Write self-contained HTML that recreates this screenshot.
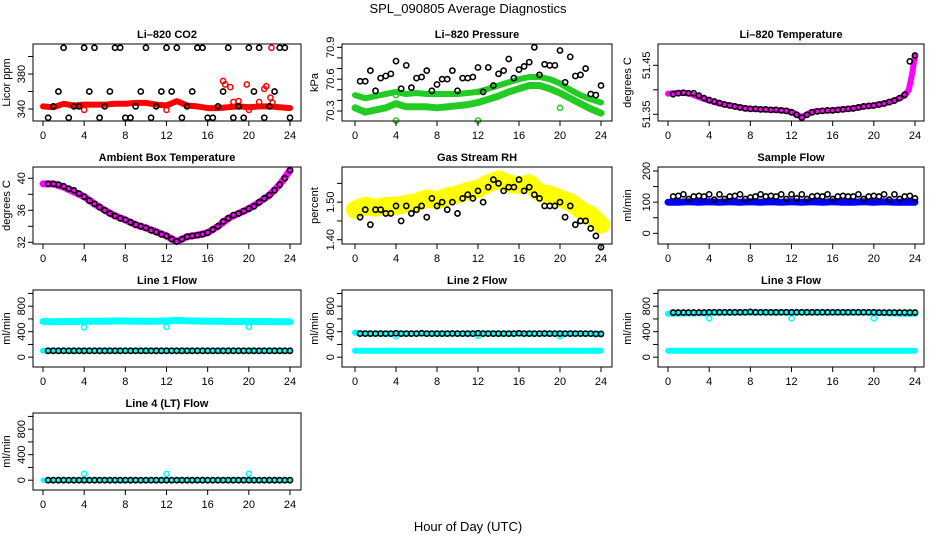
<!DOCTYPE html>
<html><head><meta charset="utf-8">
<style>
html,body{margin:0;padding:0;background:#fff;}
svg{display:block;font-family:"Liberation Sans",Arial,sans-serif;}
.tk{font-size:11px;fill:#000;}
.tt{font-size:11px;font-weight:bold;fill:#000;}
</style></head>
<body>
<svg id="c" width="936" height="540" viewBox="0 0 936 540" xmlns="http://www.w3.org/2000/svg">
<text x="468" y="13" text-anchor="middle" font-size="13">SPL_090805  Average Diagnostics</text>
<text x="468" y="531" text-anchor="middle" font-size="13">Hour of Day (UTC)</text>
</svg>
<script>
// ---- data ----
const blackHours=[0.5,1,1.5,2,2.5,3,3.5,4,4.5,5,5.5,6,6.5,7,7.5,8,8.5,9,9.5,10,10.5,11,11.5,12,12.5,13,13.5,14,14.5,15,15.5,16,16.5,17,17.5,18,18.5,19,19.5,20,20.5,21,21.5,22,22.5,23,23.5,24];
const bandHours=[0,1,2,3,4,5,6,7,8,9,10,11,12,13,14,15,16,17,18,19,20,21,22,23,24];
const xTicks=[0,4,8,12,16,20,24];

const co2Black=[330,343,360,410,330,343,343,410,360,410,330,343,360,410,410,330,330,343,360,410,330,343,360,410,360,410,330,343,360,410,410,330,330,343,360,410,330,343,330,410,360,410,330,343,360,410,410,330];
const co2Band=[343,342,346,344,345,345,345,346,346,347,347,345,344,349,344,343,341,341,342,343,342,343,343,342,341];
const co2OutH=[17.5,17.7,18.2,19.8,21.5,21.7,22.1,22.2,4,12,20,18.5,19,21,22.3];
const co2OutV=[372,368,365,368,363,366,353,410,339,339,339,348,349,348,347];

const presBlack=[70.58,70.58,70.68,70.49,70.61,70.63,70.65,70.77,70.51,70.73,70.52,70.61,70.62,70.68,70.49,70.55,70.60,70.60,70.68,70.49,70.61,70.61,70.62,70.71,70.48,70.71,70.54,70.65,70.68,70.79,70.61,70.69,70.72,70.76,70.90,70.64,70.74,70.73,70.73,70.87,70.57,70.81,70.63,70.64,70.70,70.46,70.45,70.54];
const presLow=[70.33,70.29,70.31,70.33,70.37,70.34,70.34,70.34,70.33,70.34,70.35,70.36,70.38,70.41,70.44,70.48,70.51,70.54,70.54,70.51,70.47,70.42,70.37,70.32,70.28];
const presHigh=[70.45,70.42,70.44,70.46,70.48,70.46,70.47,70.46,70.46,70.46,70.46,70.47,70.48,70.51,70.54,70.57,70.60,70.62,70.62,70.60,70.56,70.50,70.45,70.41,70.38];
const presOutH=[4,12,20,4,12];
const presOutV=[70.21,70.21,70.33,70.45,70.48];

const tempBlack=[51.391,51.393,51.394,51.393,51.393,51.388,51.383,51.379,51.376,51.373,51.370,51.368,51.366,51.364,51.362,51.361,51.361,51.360,51.360,51.359,51.359,51.358,51.357,51.354,51.349,51.343,51.349,51.354,51.356,51.357,51.358,51.358,51.359,51.360,51.361,51.362,51.364,51.366,51.367,51.368,51.370,51.372,51.375,51.378,51.383,51.390,51.458,51.470];
const tempBandH=[0,1,2,3,4,5,6,7,8,9,10,11,12,13,14,15,16,17,18,19,20,21,22,23,23.4,23.7,24];
const tempBand=[51.392,51.394,51.393,51.385,51.378,51.372,51.368,51.364,51.361,51.360,51.359,51.358,51.355,51.344,51.355,51.357,51.358,51.360,51.362,51.366,51.368,51.372,51.378,51.388,51.40,51.43,51.47];

const ambBlack=[39.3,39.3,39.2,39.0,38.7,38.5,38.1,37.7,37.2,36.8,36.4,36.0,35.6,35.3,35.0,34.8,34.5,34.2,34.0,33.8,33.5,33.3,33.0,32.8,32.4,32.1,32.4,32.7,32.8,32.9,33.0,33.2,33.6,34.0,34.6,35.0,35.4,35.6,35.9,36.2,36.5,37.0,37.5,37.9,38.5,39.2,40.0,41.0];
const ambBand=[39.3,39.3,38.9,38.3,37.7,36.8,36.0,35.3,34.8,34.2,33.8,33.3,32.8,32.1,32.7,32.9,33.2,34.0,35.0,35.6,36.2,37.0,37.9,39.2,41.0];

const rhBlack=[1.46,1.48,1.44,1.48,1.48,1.47,1.47,1.49,1.45,1.49,1.47,1.48,1.49,1.46,1.51,1.49,1.50,1.48,1.50,1.47,1.51,1.52,1.51,1.53,1.50,1.54,1.56,1.55,1.53,1.54,1.54,1.56,1.53,1.54,1.52,1.51,1.49,1.49,1.49,1.50,1.46,1.49,1.44,1.45,1.45,1.43,1.41,1.38];
const rhBand=[1.48,1.49,1.485,1.49,1.49,1.495,1.50,1.51,1.505,1.515,1.52,1.53,1.535,1.55,1.56,1.55,1.545,1.55,1.525,1.52,1.51,1.50,1.48,1.465,1.44];

const sfBlack=[118,120,125,110,118,120,118,125,108,125,110,118,120,125,110,115,118,125,118,120,118,125,110,125,112,125,110,118,120,118,125,110,118,120,118,118,125,110,118,120,118,125,108,125,110,118,120,112];
const sfBand=[100,100,101,100,101,100,101,100,101,100,101,100,101,100,101,100,101,100,100,101,100,101,100,100,100];

const l1Black=[100,100,100,100,100,100,100,100,100,100,100,100,100,100,100,100,100,100,100,100,100,100,100,100,100,100,100,100,100,100,100,100,100,100,100,100,100,100,100,100,100,100,100,100,100,100,100,100];
const l1High=[560,555,560,560,565,565,565,570,568,565,565,565,570,575,570,568,565,565,562,562,560,560,558,555,555];
const l1Low=[100,100,100,100,100,100,100,100,100,100,100,100,100,100,100,100,100,100,100,100,100,100,100,100,100];
const l1OutH=[4,12,20]; const l1OutV=[470,475,475];

const l2Black=[370,370,370,370,370,370,370,375,370,370,370,370,375,370,370,370,370,370,372,370,370,370,370,375,370,370,370,370,370,370,370,375,370,370,370,370,372,370,370,370,370,370,370,370,370,370,365,365];
const l2High=[385,370,370,370,370,370,372,372,370,370,370,370,372,372,370,370,370,370,370,370,370,370,370,368,365];
const l2Low=[100,100,100,100,100,100,100,100,100,100,100,100,100,100,100,100,100,100,100,100,100,100,100,100,100];
const l2OutH=[4,12,20]; const l2OutV=[330,335,330];

const l3Black=[700,700,700,700,700,700,700,705,705,705,705,705,705,705,705,710,705,705,705,705,705,705,705,705,705,705,705,705,705,705,705,705,705,705,705,705,705,705,705,705,700,700,700,700,700,700,700,700];
const l3High=[680,685,685,690,690,695,695,700,700,700,700,700,700,700,700,700,700,700,700,700,695,690,685,680,680];
const l3Low=[100,100,100,100,100,100,100,100,100,100,100,100,100,100,100,100,100,100,100,100,100,100,100,100,100];
const l3OutH=[4,12,20]; const l3OutV=[610,610,610];

const l4Black=[0,0,0,0,0,0,0,0,0,0,0,0,0,0,0,0,0,0,0,0,0,0,0,0,0,0,0,0,0,0,0,0,0,0,0,0,0,0,0,0,0,0,0,0,0,0,0,0];
const l4Band=[0,0,0,0,0,0,0,0,0,0,0,0,0,0,0,0,0,0,0,0,0,0,0,0,0];
const l4OutH=[4,12,20]; const l4OutV=[100,100,100];

const flowTicks=[0,200,400,600,800,1000];
const flowLabels=["0","","400","","800",""];

// ---- drawing ----
const NS="http://www.w3.org/2000/svg";
const svg=document.getElementById('c');
const cols=[{bl:33,br:301,h0:43,h24:290,tx:21,lx:10},{bl:342,br:612,h0:355,h24:601,tx:330,lx:318},{bl:658,br:924,h0:668,h24:915,tx:646,lx:631}];
const rows=[44,167,290,413];
function mk(tag,attrs,parent){const e=document.createElementNS(NS,tag);for(const k in attrs)e.setAttribute(k,attrs[k]);(parent||svg).appendChild(e);return e;}

function panel(o){
  const c=cols[o.col],top=rows[o.row],bot=top+77;
  const g=mk('g',{});
  
  
  const X=h=>c.h0+(h/24)*(c.h24-c.h0);
  const Y=v=>bot-(v-o.ymin)/(o.ymax-o.ymin)*77;
  // title
  const t=mk('text',{x:(c.bl+c.br)/2,y:top-6,'text-anchor':'middle',class:'tt'},g);t.textContent=o.title;
  
  // y label
  const yl=mk('text',{x:c.lx,y:(top+bot)/2,'text-anchor':'middle',class:'tk',transform:`rotate(-90 ${c.lx} ${(top+bot)/2})`},g);yl.textContent=o.ylab;
  
  // bands
  (o.bands||[]).forEach(b=>{
    const pts=b.h.map((h,i)=>X(h).toFixed(1)+','+Y(b.v[i]).toFixed(1)).join(' ');
    const p=mk('polyline',{points:pts,fill:'none',stroke:b.color,'stroke-width':b.w,'stroke-linejoin':'round','stroke-linecap':'round'},g);
    
  });
  // outliers
  (o.outs||[]).forEach(s=>{
    s.h.forEach((h,i)=>{
      const ci=mk('circle',{cx:X(h),cy:Y(s.v[i]),r:2.6,fill:'none',stroke:s.color,'stroke-width':1.5},g);
      
    });
  });
  // black points
  blackHours.forEach((h,i)=>{
    const ci=mk('circle',{cx:X(h),cy:Y(o.black[i]),r:2.6,fill:'none',stroke:'#000','stroke-width':1.6},g);
    
  });
  // box
  const bx=mk('rect',{x:c.bl,y:top,width:c.br-c.bl,height:77,fill:'none',stroke:'#000','stroke-width':1},g);
  
  // x axis
  xTicks.forEach(h=>{
    mk('line',{x1:X(h),x2:X(h),y1:bot,y2:bot+5,stroke:'#000'},g);
    const tl=mk('text',{x:X(h),y:bot+18,'text-anchor':'middle',class:'tk'},g);tl.textContent=h;
    
  });
  // y axis
  o.yt.forEach((v,i)=>{
    mk('line',{x1:c.bl-5,x2:c.bl,y1:Y(v),y2:Y(v),stroke:'#000'},g);
    if(o.yl[i]){const tl=mk('text',{x:c.tx+4,y:Y(v),'text-anchor':'middle',class:'tk',transform:`rotate(-90 ${c.tx+4} ${Y(v)})`},g);tl.textContent=o.yl[i];
    }
  });
}

panel({name:'co2-panel',col:0,row:0,title:'Li\u2013820 CO2',ylab:'Licor ppm',ymin:326.3,ymax:414.3,yt:[340,360,380,400],yl:['340','','380',''],
  black:co2Black,bands:[{h:bandHours,v:co2Band,color:'#ff0000',w:6}],outs:[{h:co2OutH,v:co2OutV,color:'#ff0000'}]});
panel({name:'pressure-panel',col:1,row:0,title:'Li\u2013820 Pressure',ylab:'kPa',ymin:70.206,ymax:70.931,yt:[70.3,70.4,70.5,70.6,70.7,70.8,70.9],yl:['70.3','','','70.6','','','70.9'],
  black:presBlack,bands:[{h:bandHours,v:presLow,color:'#22cc22',w:7},{h:bandHours,v:presHigh,color:'#22cc22',w:6}],outs:[{h:presOutH,v:presOutV,color:'#22cc22'}]});
panel({name:'temperature-panel',col:2,row:0,title:'Li\u2013820 Temperature',ylab:'degrees C',ymin:51.3363,ymax:51.4935,yt:[51.35,51.40,51.45],yl:['51.35','','51.45'],
  black:tempBlack,bands:[{h:tempBandH,v:tempBand,color:'#ff00ff',w:6}]});
panel({name:'ambient-panel',col:0,row:1,title:'Ambient Box Temperature',ylab:'degrees C',ymin:31.79,ymax:41.41,yt:[32,34,36,38,40],yl:['32','','36','','40'],
  black:ambBlack,bands:[{h:bandHours,v:ambBand,color:'#ff00ff',w:7}]});
panel({name:'rh-panel',col:1,row:1,title:'Gas Stream RH',ylab:'percent',ymin:1.3886,ymax:1.5936,yt:[1.40,1.45,1.50,1.55],yl:['1.40','','1.50',''],
  black:rhBlack,bands:[{h:bandHours,v:rhBand,color:'#ffff00',w:18}]});
panel({name:'sample-flow-panel',col:2,row:1,title:'Sample Flow',ylab:'ml/min',ymin:-34.3,ymax:212.8,yt:[0,50,100,150,200],yl:['0','','100','','200'],
  black:sfBlack,bands:[{h:bandHours,v:sfBand,color:'#0000ff',w:7}]});
panel({name:'line1-flow-panel',col:0,row:2,title:'Line 1 Flow',ylab:'ml/min',ymin:-154,ymax:1054,yt:flowTicks,yl:flowLabels,
  black:l1Black,bands:[{h:bandHours,v:l1High,color:'#00ffff',w:7},{h:bandHours,v:l1Low,color:'#00ffff',w:6}],outs:[{h:l1OutH,v:l1OutV,color:'#00ffff'}]});
panel({name:'line2-flow-panel',col:1,row:2,title:'Line 2 Flow',ylab:'ml/min',ymin:-154,ymax:1054,yt:flowTicks,yl:flowLabels,
  black:l2Black,bands:[{h:bandHours,v:l2High,color:'#00ffff',w:6},{h:bandHours,v:l2Low,color:'#00ffff',w:6}],outs:[{h:l2OutH,v:l2OutV,color:'#00ffff'}]});
panel({name:'line3-flow-panel',col:2,row:2,title:'Line 3 Flow',ylab:'ml/min',ymin:-154,ymax:1054,yt:flowTicks,yl:flowLabels,
  black:l3Black,bands:[{h:bandHours,v:l3High,color:'#00ffff',w:6},{h:bandHours,v:l3Low,color:'#00ffff',w:6}],outs:[{h:l3OutH,v:l3OutV,color:'#00ffff'}]});
panel({name:'line4-flow-panel',col:0,row:3,title:'Line 4 (LT) Flow',ylab:'ml/min',ymin:-154,ymax:1054,yt:flowTicks,yl:flowLabels,
  black:l4Black,bands:[{h:bandHours,v:l4Band,color:'#00ffff',w:5}],outs:[{h:l4OutH,v:l4OutV,color:'#00ffff'}]});
</script>
</body></html>
